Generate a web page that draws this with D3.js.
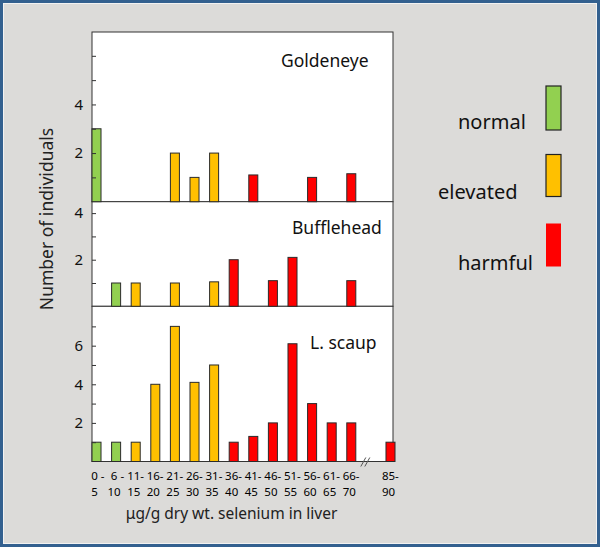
<!DOCTYPE html>
<html><head><meta charset="utf-8">
<script src="https://cdn.jsdelivr.net/npm/d3@7"></script>
<style>html,body{margin:0;padding:0;background:#dcdbd9}svg{display:block}</style>
</head><body><svg id="c" width="600" height="547"></svg>
<script>
// ---- data ----
const categories = ["0-5","6-10","11-15","16-20","21-25","26-30","31-35","36-40","41-45","46-50","51-55","56-60","61-65","66-70","85-90"];
const labelTop = ["0 -","6 -","11-","16-","21-","26-","31-","36-","41-","46-","51-","56-","61-","66-","85-"];
const labelBottom = ["5","10","15","20","25","30","35","40","45","50","55","60","65","70","90"];
const categoryLevel = ["normal","normal","elevated","elevated","elevated","elevated","elevated","harmful","harmful","harmful","harmful","harmful","harmful","harmful","harmful"];
const species = ["Goldeneye","Bufflehead","L. scaup"];
const goldeneye   = [3,0,0,0,2,1,2,0,1.1,0,0,1,0,1.15,0];
const bufflehead  = [0,1,1,0,1,0,1.05,2,0,1.1,2.1,0,0,1.1,0];
const lesserScaup = [1,1,1,4,7,4.1,5,1,1.3,2,6.1,3,2,2,1];
const speciesValues = [goldeneye, bufflehead, lesserScaup];
const yTickLabels = [[2,4],[2,4],[2,4,6]];
const levels = ["normal","elevated","harmful"];
const levelColors = ["#92d050","#ffc000","#ff0000"];

// ---- layout ----
const W = 600, H = 547;
const FONT = "'Noto Sans', sans-serif";
const plotLeft = 92, plotRight = 393;
const panels = [
  {top: 32,    bottom: 201.7, ymax: 6.98, tickMax: 6, tx: 281, ty: 66.5},
  {top: 201.7, bottom: 306.3, ymax: 4.49, tickMax: 4, tx: 292, ty: 234},
  {top: 306.3, bottom: 461.5, ymax: 8.04, tickMax: 7, tx: 310, ty: 348.5}
];

const svg = d3.select("#c").attr("font-family", FONT);

// background + frame
svg.append("rect").attr("x",1.5).attr("y",1.5).attr("width",W-3).attr("height",H-3)
  .attr("fill","#dcdbd9").attr("stroke","#33608f").attr("stroke-width",3);
svg.append("rect").attr("x",3.5).attr("y",3.5).attr("width",W-7).attr("height",H-7)
  .attr("fill","none").attr("stroke","#f2f2f2").attr("stroke-width",1);

const xDomain = [...categories.slice(0,14), "", categories[14]];
const x = d3.scaleBand().domain(xDomain).range([92, 395]).paddingInner(0.54).paddingOuter(0);
const bw = x.bandwidth();
const color = d3.scaleOrdinal().domain(levels).range(levelColors);

// panel backgrounds
panels.forEach(p => {
  svg.append("rect").attr("x",plotLeft).attr("y",p.top)
    .attr("width",plotRight-plotLeft).attr("height",p.bottom-p.top)
    .attr("fill","#fff").attr("stroke","#333").attr("stroke-width",1);
});

panels.forEach((p,i) => {
  const y = d3.scaleLinear().domain([0,p.ymax]).range([p.bottom,p.top]);
  const vals = speciesValues[i];
  const data = categories.map((c,j) => ({c, v: vals[j], lvl: categoryLevel[j]})).filter(d => d.v > 0);
  svg.append("g").selectAll("rect").data(data).join("rect")
    .attr("x", d => x(d.c)).attr("width", bw)
    .attr("y", d => y(d.v)).attr("height", d => y(0) - y(d.v))
    .attr("fill", d => color(d.lvl))
    .attr("stroke", "#2b2b2b").attr("stroke-width", 1);

  const ax = svg.append("g").attr("transform",`translate(${plotLeft},0)`)
    .call(d3.axisLeft(y).tickValues(d3.range(1,p.tickMax+1)).tickSize(-4).tickPadding(9)
      .tickFormat(d => yTickLabels[i].includes(d) ? d : ""));
  ax.select(".domain").remove();
  ax.selectAll("line").attr("stroke","#333");
  ax.selectAll("text").attr("font-family",FONT).attr("font-size",15).attr("fill","#111");

  svg.append("text").attr("x",p.tx).attr("y",p.ty).attr("font-size",17.5).attr("fill","#111").text(species[i]);
});

// axis break mark
const bx = x(categories[13]) + bw + 8, by = panels[2].bottom;
[0,4].forEach(o => {
  svg.append("line").attr("x1",bx-3+o).attr("y1",by+5).attr("x2",bx+2+o).attr("y2",by-4)
    .attr("stroke","#555").attr("stroke-width",1);
});

// x labels (two lines)
categories.forEach((c,j) => {
  const cx = x(c) + bw/2 - 2;
  const t1 = svg.append("text").attr("font-size",11.5).attr("fill","#000")
    .attr("x",cx).attr("y",480).text(labelTop[j]);
  const numLen = labelTop[j].replace(/[^0-9]/g,"").length;
  const w = t1.node().getSubStringLength(0, numLen);
  t1.attr("x", cx - w/2);
  svg.append("text").attr("font-size",11.5).attr("fill","#000")
    .attr("x",cx).attr("y",495.5).attr("text-anchor","middle").text(labelBottom[j]);
});

svg.append("text").attr("x",231.5).attr("y",518.5).attr("text-anchor","middle")
  .attr("font-size",15.5).attr("fill","#222").text("μg/g dry wt. selenium in liver");

svg.append("text").attr("transform","translate(53,219) rotate(-90)").attr("text-anchor","middle")
  .attr("font-size",17.5).attr("fill","#222").text("Number of individuals");

// legend
const legendLayout = [
  {tx: 458, ty: 128.5, ry: 86, rh: 44},
  {tx: 438, ty: 198.5, ry: 154.5, rh: 42},
  {tx: 458, ty: 270, ry: 223.5, rh: 43}
];
levels.forEach((l,i) => {
  const L = legendLayout[i];
  svg.append("rect").attr("x",546).attr("y",L.ry).attr("width",15).attr("height",L.rh)
    .attr("fill",color(l)).attr("stroke", l === "harmful" ? "none" : "#222").attr("stroke-width",1.2);
  svg.append("text").attr("x",L.tx).attr("y",L.ty).attr("font-size",20).attr("fill","#111").text(l);
});
</script></body></html>
